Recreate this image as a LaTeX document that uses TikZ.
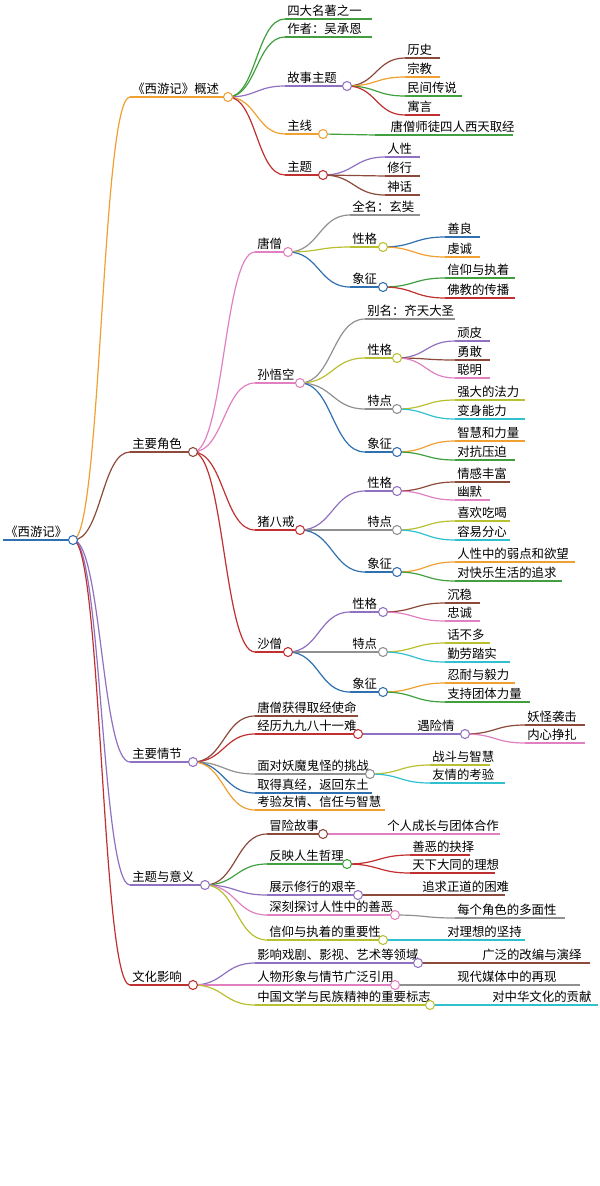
\documentclass[tikz,border=0pt]{standalone}
\usepackage{fontspec}
\setmainfont{Noto Sans CJK SC}
\usetikzlibrary{positioning,calc}

\definecolor{cOra}{HTML}{F0A030}
\definecolor{cBro}{HTML}{8B4A3A}
\definecolor{cPur}{HTML}{9070C0}
\definecolor{cGre}{HTML}{40A040}
\definecolor{cRed}{HTML}{C03030}
\definecolor{cPin}{HTML}{E080C0}
\definecolor{cGra}{HTML}{909090}
\definecolor{cOli}{HTML}{B8C030}
\definecolor{cCya}{HTML}{30C0D0}
\definecolor{cBlu}{HTML}{3070B0}

\tikzset{
  topictext/.style={anchor=south west,inner sep=1.5pt,font=\fontsize{9.3}{11}\selectfont},
  underline/.style={line width=1.1pt},
  knobmark/.style={fill=white,line width=0.8pt}
}

% name, x1, x2, y, colour, text
\newcommand{\topic}[6]{%
  \coordinate (#1-s) at (#2,#4);
  \coordinate (#1-e) at (#3,#4);
  \node[topictext] (#1) at (#1-s) {#6};
  \draw[#5,underline] (#1-s) -- (#1-e);}
\newcommand{\link}[3]{\draw[#3,line width=0.9pt] let \p1=(#1-e), \p2=(#2-s),
  \p3=($(#1-e)!0.5!(#2-s)$) in
  (\p1) .. controls (\x3,\y1) and (\x3,\y2) .. (\p2);}
\newcommand{\knob}[2]{\draw[#2,knobmark] (#1-e) circle (4.5);}

\begin{document}
\begin{tikzpicture}[x=0.75pt,y=-0.75pt]
\useasboundingbox (0,0) rectangle (600,1186);

% root and main branches
\coordinate (root-s) at (3,540);
\coordinate (root-e) at (73,540);
\node[topictext] (root) at (root-s) {《西游记》};
\draw[cBlu,line width=2pt] (root-s) -- (root-e);

\topic{over}{130}{228}{97}{cOra}{《西游记》概述}
\topic{role}{130}{193}{452}{cBro}{主要角色}
\topic{plot}{130}{193}{762}{cPur}{主要情节}
\topic{mean}{130}{205}{885}{cPur}{主题与意义}
\topic{cult}{130}{193}{985}{cRed}{文化影响}
\link{root}{over}{cOra} \link{root}{role}{cBro} \link{root}{plot}{cPur}
\link{root}{mean}{cPur} \link{root}{cult}{cRed}

% overview
\topic{ov1}{285}{372}{19}{cGre}{四大名著之一}
\topic{ov2}{285}{372}{37}{cGre}{作者：吴承恩}
\topic{ov3}{285}{347}{86}{cPur}{故事主题}
\topic{ov4}{285}{323}{134}{cOra}{主线}
\topic{ov5}{285}{323}{175}{cRed}{主题}
\link{over}{ov1}{cGre} \link{over}{ov2}{cGre} \link{over}{ov3}{cPur}
\link{over}{ov4}{cOra} \link{over}{ov5}{cRed}
\topic{ov31}{405}{440}{58}{cBro}{历史}
\topic{ov32}{405}{440}{77}{cOra}{宗教}
\topic{ov33}{405}{462}{96}{cGre}{民间传说}
\topic{ov34}{405}{440}{115}{cRed}{寓言}
\link{ov3}{ov31}{cBro} \link{ov3}{ov32}{cOra} \link{ov3}{ov33}{cGre} \link{ov3}{ov34}{cRed}
\topic{ov41}{375}{513}{135}{cGre}{\hspace{10pt}唐僧师徒四人西天取经}
\link{ov4}{ov41}{cGre}
\topic{ov51}{385}{420}{157}{cPur}{人性}
\topic{ov52}{385}{420}{176}{cBro}{修行}
\topic{ov53}{385}{420}{195}{cBro}{神话}
\link{ov5}{ov51}{cPur} \link{ov5}{ov52}{cBro} \link{ov5}{ov53}{cBro}

% characters
\topic{tang}{255}{288}{252}{cPin}{唐僧}
\topic{sun}{255}{300}{383}{cPin}{孙悟空}
\topic{zhu}{255}{300}{530}{cRed}{猪八戒}
\topic{sha}{255}{288}{652}{cRed}{沙僧}
\link{role}{tang}{cPin} \link{role}{sun}{cPin} \link{role}{zhu}{cRed} \link{role}{sha}{cRed}

\topic{tang1}{350}{420}{215}{cGra}{全名：玄奘}
\topic{tang2}{350}{383}{247}{cOli}{性格}
\topic{tang3}{350}{383}{287}{cBlu}{象征}
\link{tang}{tang1}{cGra} \link{tang}{tang2}{cOli} \link{tang}{tang3}{cBlu}
\topic{tang21}{445}{480}{237}{cBlu}{善良}
\topic{tang22}{445}{480}{257}{cOra}{虔诚}
\topic{tang31}{445}{515}{278}{cGre}{信仰与执着}
\topic{tang32}{445}{515}{298}{cRed}{佛教的传播}
\link{tang2}{tang21}{cBlu} \link{tang2}{tang22}{cOra}
\link{tang3}{tang31}{cGre} \link{tang3}{tang32}{cRed}

\topic{sun1}{365}{455}{319}{cGra}{别名：齐天大圣}
\topic{sun2}{365}{397}{358}{cOli}{性格}
\topic{sun3}{365}{397}{409}{cGra}{特点}
\topic{sun4}{365}{397}{452}{cBlu}{象征}
\link{sun}{sun1}{cGra} \link{sun}{sun2}{cOli} \link{sun}{sun3}{cGra} \link{sun}{sun4}{cBlu}
\topic{sun21}{455}{490}{341}{cPur}{顽皮}
\topic{sun22}{455}{490}{360}{cBro}{勇敢}
\topic{sun23}{455}{490}{378}{cPin}{聪明}
\topic{sun31}{455}{525}{400}{cOli}{强大的法力}
\topic{sun32}{455}{525}{419}{cCya}{变身能力}
\topic{sun41}{455}{525}{441}{cOra}{智慧和力量}
\topic{sun42}{455}{515}{460}{cGre}{对抗压迫}
\link{sun2}{sun21}{cPur} \link{sun2}{sun22}{cBro} \link{sun2}{sun23}{cPin}
\link{sun3}{sun31}{cOli} \link{sun3}{sun32}{cCya}
\link{sun4}{sun41}{cOra} \link{sun4}{sun42}{cGre}

\topic{zhu1}{365}{397}{491}{cPur}{性格}
\topic{zhu2}{365}{397}{530}{cGra}{特点}
\topic{zhu3}{365}{397}{572}{cBlu}{象征}
\link{zhu}{zhu1}{cPur} \link{zhu}{zhu2}{cGra} \link{zhu}{zhu3}{cBlu}
\topic{zhu11}{455}{510}{482}{cBro}{情感丰富}
\topic{zhu12}{455}{490}{500}{cPin}{幽默}
\topic{zhu21}{455}{510}{521}{cOli}{喜欢吃喝}
\topic{zhu22}{455}{510}{540}{cCya}{容易分心}
\topic{zhu31}{455}{575}{562}{cOra}{人性中的弱点和欲望}
\topic{zhu32}{455}{562}{581}{cGre}{对快乐生活的追求}
\link{zhu1}{zhu11}{cBro} \link{zhu1}{zhu12}{cPin}
\link{zhu2}{zhu21}{cOli} \link{zhu2}{zhu22}{cCya}
\link{zhu3}{zhu31}{cOra} \link{zhu3}{zhu32}{cGre}

\topic{sha1}{350}{383}{612}{cPur}{性格}
\topic{sha2}{350}{383}{652}{cGra}{特点}
\topic{sha3}{350}{383}{692}{cBlu}{象征}
\link{sha}{sha1}{cPur} \link{sha}{sha2}{cGra} \link{sha}{sha3}{cBlu}
\topic{sha11}{445}{480}{603}{cBro}{沉稳}
\topic{sha12}{445}{480}{621}{cPin}{忠诚}
\topic{sha21}{445}{490}{643}{cOli}{话不多}
\topic{sha22}{445}{510}{662}{cCya}{勤劳踏实}
\topic{sha31}{445}{515}{683}{cOra}{忍耐与毅力}
\topic{sha32}{445}{530}{702}{cGre}{支持团体力量}
\link{sha1}{sha11}{cBro} \link{sha1}{sha12}{cPin}
\link{sha2}{sha21}{cOli} \link{sha2}{sha22}{cCya}
\link{sha3}{sha31}{cOra} \link{sha3}{sha32}{cGre}

% plot
\topic{pl1}{255}{358}{716}{cBro}{唐僧获得取经使命}
\topic{pl2}{255}{358}{734}{cRed}{经历九九八十一难}
\topic{pl3}{255}{370}{774}{cGra}{面对妖魔鬼怪的挑战}
\topic{pl4}{255}{372}{793}{cBlu}{取得真经，返回东土}
\topic{pl5}{255}{385}{810}{cOra}{考验友情、信任与智慧}
\link{plot}{pl1}{cBro} \link{plot}{pl2}{cRed} \link{plot}{pl3}{cGra}
\link{plot}{pl4}{cBlu} \link{plot}{pl5}{cOra}
\topic{pl21}{415}{465}{734}{cPur}{遇险情}
\link{pl2}{pl21}{cPur}
\topic{pl211}{525}{585}{725}{cBro}{妖怪袭击}
\topic{pl212}{525}{585}{743}{cPin}{内心挣扎}
\link{pl21}{pl211}{cBro} \link{pl21}{pl212}{cPin}
\topic{pl31}{430}{490}{765}{cOli}{战斗与智慧}
\topic{pl32}{430}{505}{783}{cCya}{友情的考验}
\link{pl3}{pl31}{cOli} \link{pl3}{pl32}{cCya}

% meaning
\topic{me1}{267}{323}{834}{cBro}{冒险故事}
\topic{me2}{267}{347}{864}{cGre}{反映人生哲理}
\topic{me3}{267}{358}{895}{cPur}{展示修行的艰辛}
\topic{me4}{267}{395}{915}{cPin}{深刻探讨人性中的善恶}
\topic{me5}{267}{383}{940}{cOli}{信仰与执着的重要性}
\link{mean}{me1}{cBro} \link{mean}{me2}{cGre} \link{mean}{me3}{cPur}
\link{mean}{me4}{cPin} \link{mean}{me5}{cOli}
\topic{me11}{385}{500}{834}{cPin}{个人成长与团体合作}
\topic{me21}{410}{470}{855}{cRed}{善恶的抉择}
\topic{me22}{410}{495}{873}{cRed}{天下大同的理想}
\topic{me31}{420}{505}{895}{cBro}{追求正道的困难}
\topic{me41}{455}{565}{918}{cGra}{每个角色的多面性}
\topic{me51}{445}{525}{940}{cCya}{对理想的坚持}
\link{me1}{me11}{cPin} \link{me2}{me21}{cRed} \link{me2}{me22}{cRed}
\link{me3}{me31}{cBro} \link{me4}{me41}{cGra} \link{me5}{me51}{cCya}

% culture
\topic{cu1}{255}{418}{963}{cPur}{影响戏剧、影视、艺术等领域}
\topic{cu2}{255}{395}{985}{cPin}{人物形象与情节广泛引用}
\topic{cu3}{255}{430}{1005}{cOli}{中国文学与民族精神的重要标志}
\link{cult}{cu1}{cPur} \link{cult}{cu2}{cPin} \link{cult}{cu3}{cOli}
\topic{cu11}{480}{590}{963}{cBro}{广泛的改编与演绎}
\topic{cu21}{455}{580}{985}{cGra}{现代媒体中的再现}
\topic{cu31}{490}{598}{1005}{cCya}{对中华文化的贡献}
\link{cu1}{cu11}{cBro} \link{cu2}{cu21}{cGra} \link{cu3}{cu31}{cCya}

% knobs on branching topics
\foreach \n/\c in {root/cBlu,over/cOra,role/cBro,plot/cPur,mean/cPur,cult/cRed,
  ov3/cPur,ov4/cOra,ov5/cRed,tang/cPin,sun/cPin,zhu/cRed,sha/cRed,
  tang2/cOli,tang3/cBlu,sun2/cOli,sun3/cGra,sun4/cBlu,zhu1/cPur,zhu2/cGra,zhu3/cBlu,
  sha1/cPur,sha2/cGra,sha3/cBlu,pl2/cRed,pl21/cPur,pl3/cGra,
  me1/cBro,me2/cGre,me3/cPur,me4/cPin,me5/cOli,cu1/cPur,cu2/cPin,cu3/cOli}
  {\knob{\n}{\c}}
\end{tikzpicture}
\end{document}
